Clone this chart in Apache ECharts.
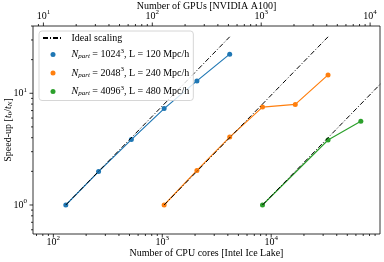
<!DOCTYPE html>
<html><head><meta charset="utf-8">
<script src="https://cdn.jsdelivr.net/npm/echarts@6/dist/echarts.min.js"></script>
<style>html,body{margin:0;padding:0;background:#fff}#c{width:384px;height:262px}</style>
</head><body><div id="c"></div>
<script>
// ---- data ----
const coresA = [130, 260, 520, 1040, 2080, 4160];
const speedupA = [1, 1.99, 3.85, 7.29, 12.9, 22.4];
const coresB = [1040, 2080, 4160, 8320, 16640, 33280];
const speedupB = [1, 2.04, 4.05, 7.52, 7.95, 14.6];
const coresC = [8320, 33280, 66560];
const speedupC = [1, 3.82, 5.61];
const idealStartCores = [130, 1040, 8320];
const idealEndCores = [4160, 33280, 266240];
const idealStartSpeedup = [1, 1, 1];
const idealEndSpeedup = [32, 32, 32];
const particleCounts = ['1024', '2048', '4096'];
const boxSizes = ['120', '240', '480'];
const seriesNames = ['A', 'B', 'C'];
const colors = ['#1f77b4', '#ff7f0e', '#2ca02c'];
const coresPerGpu = 8.1;
const xMin = 65, xMax = 99840, yMin = 0.55, yMax = 40;
const majorX = [100, 1000, 10000];
const minorX = [70, 80, 90, 200, 300, 400, 500, 600, 700, 800, 900, 2000, 3000, 4000, 5000, 6000, 7000, 8000, 9000, 20000, 30000, 40000, 50000, 60000, 70000, 80000, 90000];
const majorTop = [10, 100, 1000, 10000];
const minorTop = [9, 20, 30, 40, 50, 60, 70, 80, 90, 200, 300, 400, 500, 600, 700, 800, 900, 2000, 3000, 4000, 5000, 6000, 7000, 8000, 9000];
const majorY = [1, 10];
const minorY = [0.6, 0.7, 0.8, 0.9, 2, 3, 4, 5, 6, 7, 8, 9, 20, 30, 40];

const F = 'Liberation Serif';
const RICH = {
  p: {fontFamily: F, fontSize: 10, lineHeight: 12, width: 3.5},
  n: {fontFamily: F, fontSize: 10, lineHeight: 12, color: '#000'},
  i: {fontFamily: F, fontSize: 10, lineHeight: 12, fontStyle: 'italic', color: '#000'},
  sub: {fontFamily: F, fontSize: 7, lineHeight: 12, fontStyle: 'italic', padding: [4, 0, 0, 0], color: '#000'},
  sub0: {fontFamily: F, fontSize: 7, lineHeight: 12, padding: [4, 0, 0, 0], color: '#000'},
  sup: {fontFamily: F, fontSize: 7, lineHeight: 12, padding: [0, 0, 7, 0], color: '#000'}
};
function powLabel(v) {
  const l = Math.log10(v), e = Math.round(l);
  if (Math.abs(l - e) > 1e-6) return '';
  return '{n|10}{sup|' + e + '}';
}
function tickSeries(vals, kind, len) {
  return {
    type: 'custom', xAxisIndex: kind === 'top' ? 1 : 0, yAxisIndex: 0, silent: true, z: 10, clip: false,
    data: vals.map(v => kind === 'y' ? [1000, v] : [v, 1]),
    renderItem: function (params, api) {
      const cs = params.coordSys;
      const p = api.coord([api.value(0), api.value(1)]);
      let s;
      if (kind === 'bottom') s = {x1: p[0], y1: cs.y + cs.height, x2: p[0], y2: cs.y + cs.height + len};
      else if (kind === 'top') s = {x1: p[0], y1: cs.y, x2: p[0], y2: cs.y - len};
      else s = {x1: cs.x, y1: p[1], x2: cs.x - len, y2: p[1]};
      return {type: 'line', shape: s, style: {stroke: '#000', lineWidth: 0.8}};
    }
  };
}
const series = [];
const dataSets = [[coresA, speedupA], [coresB, speedupB], [coresC, speedupC]];
dataSets.forEach((d, k) => {
  series.push({
    type: 'line', name: seriesNames[k], data: d[0].map((c, i) => [c, d[1][i]]),
    symbol: 'circle', symbolSize: 5, color: colors[k], lineStyle: {width: 1.2, color: colors[k]},
    itemStyle: {color: colors[k]}, z: 2
  });
});
idealStartCores.forEach((c, k) => {
  series.push({
    type: 'line', name: 'Ideal scaling', data: [[c, idealStartSpeedup[k]], [idealEndCores[k], idealEndSpeedup[k]]],
    symbol: 'none', color: '#000', lineStyle: {width: 1, color: '#000', type: [5, 2, 1, 2]}, z: 3, clip: true
  });
});
series.push(tickSeries(majorX, 'bottom', 3.5));
series.push(tickSeries(minorX, 'bottom', 2));
series.push(tickSeries(majorTop, 'top', 3.5));
series.push(tickSeries(minorTop, 'top', 2));
series.push(tickSeries(majorY, 'y', 3.5));
series.push(tickSeries(minorY, 'y', 2));

const chart = echarts.init(document.getElementById('c'), null, {renderer: 'canvas'});
chart.setOption({
  animation: false,
  backgroundColor: '#fff',
  grid: {left: 33, right: 4, top: 26, bottom: 28, show: true, borderColor: '#000', borderWidth: 0.8,
    backgroundColor: 'transparent', containLabel: false, outerBoundsMode: 'none'},
  legend: {
    orient: 'vertical', left: 39, top: 31, padding: [2, 4, 2, 3], itemGap: 4.5,
    itemWidth: 20, itemHeight: 5,
    backgroundColor: 'rgba(255,255,255,0.8)', borderColor: '#ccc', borderWidth: 0.8, borderRadius: 3,
    data: [{name: 'Ideal scaling', itemStyle: {opacity: 0}}].concat(seriesNames.map(n => ({name: n, icon: 'circle'}))),
    formatter: function (name) {
      if (name === 'Ideal scaling') return '{p| }{n|Ideal scaling}';
      const k = seriesNames.indexOf(name);
      return '{p| }{i|N}{sub|part}{n| = ' + particleCounts[k] + '}{sup|3}{n|, L = ' + boxSizes[k] + ' Mpc/h}';
    },
    textStyle: {rich: RICH, fontFamily: F, fontSize: 10}
  },
  xAxis: [{
    type: 'log', logBase: 10, min: xMin, max: xMax, position: 'bottom',
    name: 'Number of CPU cores [Intel Ice Lake]', nameLocation: 'middle', nameGap: 13.5, nameMoveOverlap: false,
    nameTextStyle: {fontFamily: F, fontSize: 10, color: '#000', lineHeight: 12},
    axisLine: {show: false}, axisTick: {show: false}, splitLine: {show: false}, minorTick: {show: false},
    axisLabel: {formatter: powLabel, rich: RICH, margin: 2, showMinLabel: false, showMaxLabel: false}
  }, {
    type: 'log', logBase: 10, min: xMin / coresPerGpu, max: xMax / coresPerGpu, position: 'top',
    name: 'Number of GPUs [NVIDIA A100]', nameLocation: 'middle', nameGap: 14, nameMoveOverlap: false,
    nameTextStyle: {fontFamily: F, fontSize: 10, color: '#000', lineHeight: 12},
    axisLine: {show: false}, axisTick: {show: false}, splitLine: {show: false},
    axisLabel: {formatter: powLabel, rich: RICH, margin: 4, showMinLabel: false, showMaxLabel: false}
  }],
  yAxis: [{
    type: 'log', logBase: 10, min: yMin, max: yMax,
    name: '{n|Speed-up [}{i|t}{sub0|0}{n|/}{i|t}{sub|N}{n|]}', nameLocation: 'middle', nameGap: 19, nameRotate: 90,
    nameMoveOverlap: false,
    nameTextStyle: {rich: RICH, fontFamily: F, fontSize: 10},
    axisLine: {show: false}, axisTick: {show: false}, splitLine: {show: false},
    axisLabel: {formatter: powLabel, rich: RICH, margin: 6, showMinLabel: false, showMaxLabel: false}
  }],
  series: series
});
</script></body></html>
